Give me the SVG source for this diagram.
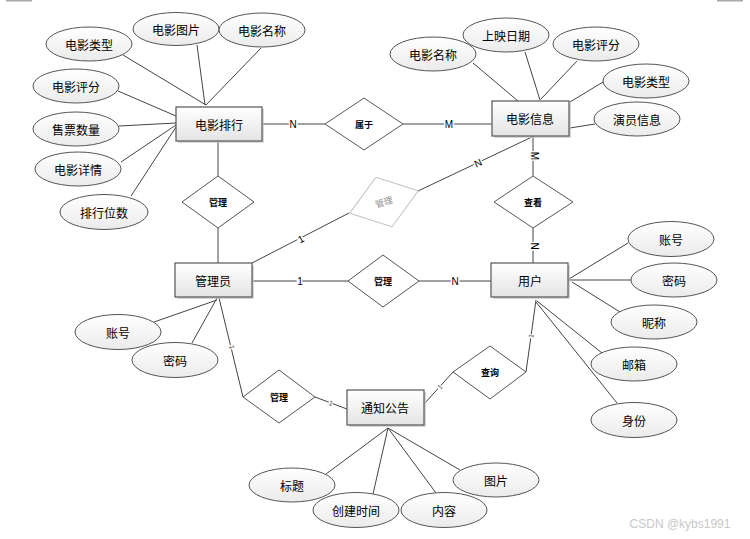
<svg xmlns="http://www.w3.org/2000/svg" width="750" height="539" viewBox="0 0 750 539">
<defs>
<linearGradient id="gr" x1="0" y1="0" x2="0" y2="1"><stop offset="0" stop-color="#ffffff"/><stop offset="1" stop-color="#e4e4e4"/></linearGradient>
<linearGradient id="ge" x1="0" y1="0" x2="0" y2="1"><stop offset="0" stop-color="#ffffff"/><stop offset="1" stop-color="#ebebeb"/></linearGradient>
<style>
.ent rect.s{fill:#c8c8c8;opacity:.7}
.ent rect.b{fill:url(#gr);stroke:#555;stroke-width:1.2}
.att ellipse{fill:url(#ge);stroke:#555;stroke-width:1}
.rel polygon{fill:#fff;stroke:#555;stroke-width:1}
text{font-family:"Noto Sans CJK SC","Liberation Sans",sans-serif;fill:#000;text-anchor:middle;dominant-baseline:central}
.t12{font-size:12px}
.t9{font-size:9px;font-weight:bold}
.lines line,.lines polyline{stroke:#444;stroke-width:1;fill:none}
.card{font-family:"Liberation Sans",sans-serif;font-size:10px;stroke:#fff;stroke-width:3px;paint-order:stroke}
.tick{font-family:"Liberation Sans",sans-serif;font-size:7px;fill:#555;stroke:#fff;stroke-width:2px;paint-order:stroke}
</style>
</defs>
<rect width="750" height="539" fill="#fff"/>
<rect x="6" y="0" width="26" height="1.5" fill="#aaa"/>
<rect x="717" y="0" width="26" height="1.5" fill="#aaa"/>

<g id="connectors" class="lines">
<!-- 电影排行 attributes -->
<line x1="123" y1="55" x2="206" y2="105"/>
<line x1="197" y1="45" x2="205" y2="105"/>
<line x1="261" y1="48" x2="206" y2="105"/>
<line x1="118" y1="91" x2="176" y2="116"/>
<line x1="119" y1="126" x2="176" y2="123"/>
<line x1="121" y1="162" x2="176" y2="125"/>
<line x1="131" y1="196" x2="176" y2="127"/>
<!-- 电影信息 attributes -->
<line x1="473" y1="63" x2="518" y2="101"/>
<line x1="525" y1="52" x2="540" y2="100"/>
<line x1="577" y1="61" x2="541" y2="99"/>
<line x1="603" y1="82" x2="570" y2="102"/>
<line x1="595" y1="124" x2="570" y2="128"/>
<!-- relations -->
<line x1="262" y1="124" x2="325" y2="124"/>
<line x1="403" y1="124" x2="492" y2="124"/>
<line x1="218" y1="141" x2="218" y2="176"/>
<line x1="218" y1="228" x2="218" y2="263"/>
<line x1="534" y1="136" x2="418" y2="191" stroke="#444"/>
<line x1="349" y1="213" x2="252" y2="263"/>
<line x1="533" y1="136" x2="533" y2="176"/>
<line x1="533" y1="228" x2="533" y2="263"/>
<line x1="252" y1="281" x2="348" y2="281"/>
<line x1="419" y1="281" x2="491" y2="281"/>
<!-- 用户 attributes -->
<line x1="628" y1="243" x2="569" y2="279"/>
<line x1="631" y1="280" x2="568" y2="280"/>
<line x1="620" y1="312" x2="572" y2="282"/>
<line x1="602" y1="353" x2="537" y2="301"/>
<line x1="617" y1="403" x2="536" y2="302"/>
<!-- 用户 - 查询 - 通知公告 -->
<line x1="536" y1="300" x2="526" y2="372"/>
<line x1="453" y1="372" x2="424" y2="404"/>
<!-- 管理员 attributes -->
<line x1="154" y1="322" x2="217" y2="300"/>
<line x1="192" y1="343" x2="217" y2="298"/>
<!-- 管理员 - 管理 - 通知公告 -->
<line x1="219" y1="298" x2="243" y2="397"/>
<line x1="315" y1="397" x2="347" y2="409"/>
<!-- 通知公告 attributes -->
<line x1="388" y1="428" x2="326" y2="474"/>
<line x1="388" y1="428" x2="373" y2="494"/>
<line x1="388" y1="428" x2="436" y2="493"/>
<line x1="388" y1="428" x2="460" y2="470"/>
<!-- cardinality labels -->
<text class="card" x="293" y="124">N</text>
<text class="card" x="449" y="124">M</text>
<text class="card" x="478" y="163" transform="rotate(-25 478 163)">N</text>
<text class="card" x="301" y="239" transform="rotate(-27 301 239)">1</text>
<text class="card" x="534" y="156" transform="rotate(90 534 156)">M</text>
<text class="card" x="534" y="246" transform="rotate(90 534 246)">N</text>
<text class="card" x="300" y="281">1</text>
<text class="card" x="455" y="281">N</text>
<text class="tick" x="531" y="336" transform="rotate(-82 531 336)">1</text>
<text class="tick" x="440" y="387" transform="rotate(-48 440 387)">1</text>
<text class="tick" x="232" y="347" transform="rotate(76 232 347)">1</text>
<text class="tick" x="331" y="403" transform="rotate(20 331 403)">1</text>
</g>

<g id="e-movierank" class="ent"><rect class="s" x="178" y="109" width="86" height="34"/><rect class="b" x="176" y="107" width="86" height="34"/><text class="t12" x="219" y="124">电影排行</text></g>
<g id="e-movieinfo" class="ent"><rect class="s" x="494" y="103" width="77" height="35"/><rect class="b" x="492" y="101" width="77" height="35"/><text class="t12" x="530" y="118">电影信息</text></g>
<g id="e-admin" class="ent"><rect class="s" x="177" y="265" width="77" height="34"/><rect class="b" x="175" y="263" width="77" height="34"/><text class="t12" x="213" y="280">管理员</text></g>
<g id="e-user" class="ent"><rect class="s" x="493" y="265" width="77" height="34"/><rect class="b" x="491" y="263" width="77" height="34"/><text class="t12" x="530" y="280">用户</text></g>
<g id="e-notice" class="ent"><rect class="s" x="349" y="392" width="77" height="35"/><rect class="b" x="347" y="390" width="77" height="35"/><text class="t12" x="385" y="407">通知公告</text></g>

<g id="r-belong" class="rel"><polygon points="325,124 364,98 403,124 364,150"/><text class="t9" x="364" y="124">属于</text></g>
<g id="r-manage1" class="rel"><polygon points="182,202 218,176 254,202 218,228"/><text class="t9" x="218" y="202">管理</text></g>
<g id="r-manage2" class="rel" opacity="0.9"><polygon points="348,202 384,176 420,202 384,228" transform="rotate(-18 384 202)" style="stroke:#bbb"/><text x="384" y="202" transform="rotate(-18 384 202)" style="font-size:9px;fill:#888">管理</text></g>
<g id="r-view" class="rel"><polygon points="494,202 533,176 573,202 533,228"/><text class="t9" x="533" y="202">查看</text></g>
<g id="r-manage3" class="rel"><polygon points="348,281 383,255 419,281 383,307"/><text class="t9" x="383" y="281">管理</text></g>
<g id="r-manage4" class="rel"><polygon points="243,397 279,370 315,397 279,423"/><text class="t9" x="279" y="397">管理</text></g>
<g id="r-query" class="rel"><polygon points="453,372 490,346 526,372 490,399"/><text class="t9" x="490" y="372">查询</text></g>

<g id="a-mr-type" class="att"><ellipse cx="89" cy="44" rx="43" ry="17"/><text class="t12" x="89" y="44">电影类型</text></g>
<g id="a-mr-pic" class="att"><ellipse cx="176" cy="29" rx="43" ry="16.5"/><text class="t12" x="176" y="29">电影图片</text></g>
<g id="a-mr-name" class="att"><ellipse cx="262" cy="30" rx="43" ry="17"/><text class="t12" x="262" y="30">电影名称</text></g>
<g id="a-mr-score" class="att"><ellipse cx="76" cy="86" rx="43" ry="17"/><text class="t12" x="76" y="86">电影评分</text></g>
<g id="a-mr-sales" class="att"><ellipse cx="76" cy="129" rx="43" ry="17"/><text class="t12" x="76" y="129">售票数量</text></g>
<g id="a-mr-detail" class="att"><ellipse cx="78" cy="169" rx="43" ry="17"/><text class="t12" x="78" y="169">电影详情</text></g>
<g id="a-mr-rank" class="att"><ellipse cx="104" cy="212" rx="44" ry="17.5"/><text class="t12" x="104" y="212">排行位数</text></g>

<g id="a-mi-name" class="att"><ellipse cx="433" cy="54" rx="43" ry="17"/><text class="t12" x="433" y="54">电影名称</text></g>
<g id="a-mi-date" class="att"><ellipse cx="506" cy="35" rx="43" ry="17"/><text class="t12" x="506" y="35">上映日期</text></g>
<g id="a-mi-score" class="att"><ellipse cx="596" cy="44" rx="43" ry="17"/><text class="t12" x="596" y="44">电影评分</text></g>
<g id="a-mi-type" class="att"><ellipse cx="646" cy="81" rx="43" ry="17"/><text class="t12" x="646" y="81">电影类型</text></g>
<g id="a-mi-actor" class="att"><ellipse cx="637" cy="119" rx="43" ry="17"/><text class="t12" x="637" y="119">演员信息</text></g>

<g id="a-u-acc" class="att"><ellipse cx="671" cy="239" rx="43" ry="17.5"/><text class="t12" x="671" y="239">账号</text></g>
<g id="a-u-pwd" class="att"><ellipse cx="674" cy="280" rx="43" ry="17"/><text class="t12" x="674" y="280">密码</text></g>
<g id="a-u-nick" class="att"><ellipse cx="654" cy="322" rx="43" ry="17"/><text class="t12" x="654" y="322">昵称</text></g>
<g id="a-u-mail" class="att"><ellipse cx="634" cy="364" rx="43" ry="17"/><text class="t12" x="634" y="364">邮箱</text></g>
<g id="a-u-role" class="att"><ellipse cx="634" cy="420" rx="43" ry="17.5"/><text class="t12" x="634" y="420">身份</text></g>

<g id="a-ad-acc" class="att"><ellipse cx="118" cy="332" rx="43" ry="17.5"/><text class="t12" x="118" y="332">账号</text></g>
<g id="a-ad-pwd" class="att"><ellipse cx="175" cy="360" rx="43" ry="17.5"/><text class="t12" x="175" y="360">密码</text></g>

<g id="a-n-title" class="att"><ellipse cx="292" cy="485" rx="43" ry="17"/><text class="t12" x="292" y="485">标题</text></g>
<g id="a-n-time" class="att"><ellipse cx="356" cy="510" rx="43" ry="17.5"/><text class="t12" x="356" y="510">创建时间</text></g>
<g id="a-n-content" class="att"><ellipse cx="444" cy="510" rx="43" ry="17.5"/><text class="t12" x="444" y="510">内容</text></g>
<g id="a-n-pic" class="att"><ellipse cx="496" cy="480" rx="43" ry="17"/><text class="t12" x="496" y="480">图片</text></g>

<text x="680" y="524" style="font-family:'Liberation Sans',sans-serif;font-size:12px;fill:#c8c8c8">CSDN @kybs1991</text>
</svg>
